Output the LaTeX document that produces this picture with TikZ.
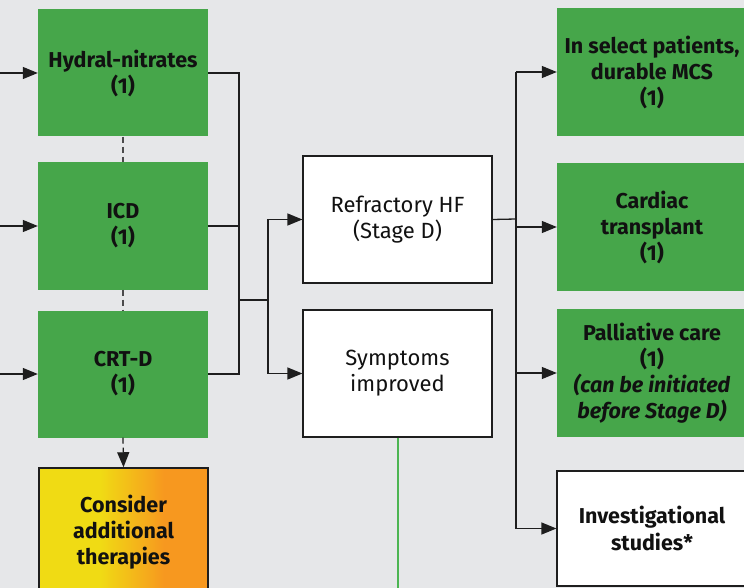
\documentclass[tikz,border=0pt]{standalone}
\usepackage{fontspec}
\setmainfont{Fira Sans}
\usepackage{xcolor}
\usepackage{tikz}
\usetikzlibrary{shapes,arrows.meta,positioning}

\definecolor{bggray}{HTML}{E6E7E9}
\definecolor{boxgreen}{HTML}{46A64A}
\definecolor{linegray}{HTML}{1E1E1E}
\definecolor{textdark}{HTML}{111111}
\definecolor{thyellow}{HTML}{F0DB14}
\definecolor{thorange}{HTML}{F7981F}
\definecolor{linkgreen}{HTML}{4CB552}
\pgfdeclarehorizontalshading{therapyshade}{100bp}{color(0bp)=(thyellow); color(43bp)=(thyellow); color(62bp)=(thorange); color(100bp)=(thorange)}

\begin{document}
\begin{tikzpicture}[x=1pt, y=-1pt,
    greenbox/.style={rectangle, fill=boxgreen, minimum width=170pt, minimum height=127pt, inner sep=0pt, align=center, text=textdark, font=\fontsize{21.5}{26}\selectfont\bfseries},
    rightbox/.style={greenbox, minimum width=190pt, minimum height=128pt},
    whitebox/.style={rectangle, draw=linegray, fill=white, line width=1.2pt, minimum width=189pt, minimum height=127pt, inner sep=0pt, align=center, text=textdark, font=\fontsize{22}{26}\selectfont},
    arrow/.style={-{Triangle[length=15pt,width=12pt]}, line width=1.3pt, draw=linegray},
    link/.style={line width=1.3pt, draw=linegray},
    dashlink/.style={line width=1.3pt, draw=linegray!80, dash pattern=on 6pt off 4pt},
    greenlink/.style={line width=2pt, draw=linkgreen}
]
    \useasboundingbox (0,0) rectangle (744,588);
    \clip (0,0) rectangle (744,588);
    \fill[bggray] (0,0) rectangle (744,588);

    \node[greenbox] (hydral) at (123,73) {Hydral-nitrates\\(1)};
    \node[greenbox] (icd) at (123,226) {ICD\\(1)};
    \node[greenbox] (crtd) at (123,374) {CRT-D\\(1)};
    \node[greenbox, draw=linegray, line width=1.5pt, shade, shading=therapyshade, minimum width=169pt, minimum height=128pt] (consider) at (123.5,532) {Consider\\additional\\therapies};

    \node[whitebox] (refractory) at (397.5,219.5) {Refractory HF\\(Stage D)};
    \node[whitebox] (symptoms) at (397.5,373.5) {Symptoms\\improved};

    \node[rightbox] (mcs) at (652,72) {In select patients,\\durable MCS\\(1)};
    \node[rightbox] (cardiac) at (652,227) {Cardiac\\transplant\\(1)};
    \node[rightbox] (palliative) at (652,373) {Palliative care\\(1)\\\textit{(can be initiated}\\\textit{before Stage D)}};
    \node[whitebox, font=\fontsize{21.5}{27}\selectfont\bfseries, minimum width=190pt, minimum height=115pt] (invest) at (652,528.5) {Investigational\\studies*};

    \coordinate (inH) at (-2,73);
    \coordinate (inI) at (-2,226);
    \coordinate (inC) at (-2,374);
    \coordinate (busL) at (239,300);
    \coordinate (split) at (268,300);
    \coordinate (busR) at (516,219);
    \coordinate (sympend) at (397.5,600);

    \draw[arrow] (inH) -- (hydral);
    \draw[arrow] (inI) -- (icd);
    \draw[arrow] (inC) -- (crtd);

    \draw[dashlink] (hydral.south) -- (icd.north);
    \draw[dashlink] (icd.south) -- (crtd.north);
    \draw[dashlink, arrow] (crtd.south) -- (consider.north);

    \draw[link] (hydral.east) -| (crtd.east -| busL) -- (crtd.east);
    \draw[link] (icd.east) -- (icd.east -| busL);
    \draw[link] (busL) -- (split);
    \draw[arrow] (split) |- (refractory.west);
    \draw[arrow] (split) |- (symptoms.west);

    \draw[link] (refractory.east) -- (busR);
    \draw[link] (busR |- mcs.west) -- (busR |- invest.west);
    \draw[arrow] (busR |- mcs.west) -- (mcs.west);
    \draw[arrow] (busR |- cardiac.west) -- (cardiac.west);
    \draw[arrow] (busR |- palliative.west) -- (palliative.west);
    \draw[arrow] (busR |- invest.west) -- (invest.west);

    \draw[greenlink] (symptoms.south) -- (sympend);
\end{tikzpicture}
\end{document}
